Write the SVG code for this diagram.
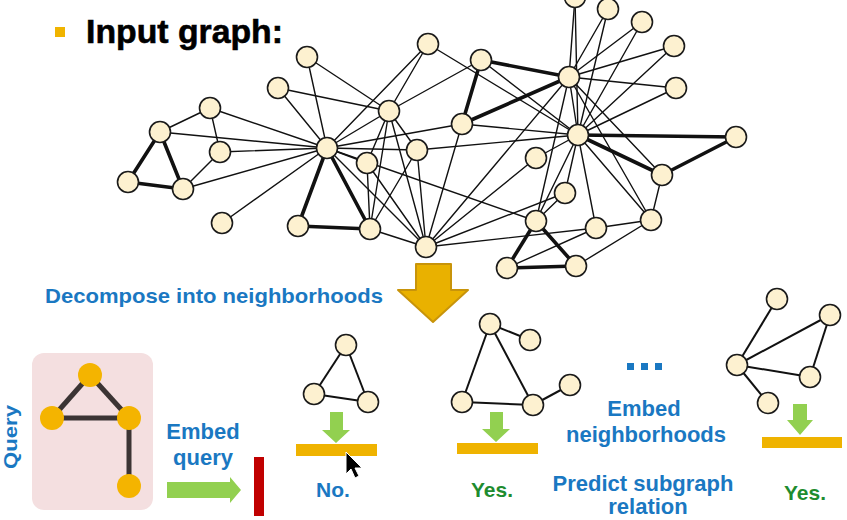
<svg xmlns="http://www.w3.org/2000/svg" width="847" height="520" viewBox="0 0 847 520">
<style>
.e{stroke:#111;stroke-width:1.4;fill:none;stroke-linecap:round}
.t{stroke:#111;stroke-width:3.6;fill:none;stroke-linecap:round}
.ne{stroke:#111;stroke-width:2;fill:none}
.qe{stroke:#3b3434;stroke-width:5;fill:none}
.n{fill:#fdf1d0;stroke:#1a1a1a;stroke-width:1.6}
.qn{fill:#f4b400}
.lbl{font-family:"Liberation Sans",Arial,sans-serif;font-weight:bold;fill:#1a78c2}
.yes{font-family:"Liberation Sans",Arial,sans-serif;font-weight:bold;fill:#1e8c2f}
.bar{fill:#efb300}
.ga{fill:#92d050}
</style>
<rect width="847" height="520" fill="#ffffff"/>
<g id="title">
<rect x="55" y="27" width="10" height="10" fill="#f0b400"/>
<text x="86" y="43" font-family="'Liberation Sans',Arial,sans-serif" font-weight="bold" font-size="34" fill="#000" stroke="#000" stroke-width="0.6" textLength="197" lengthAdjust="spacingAndGlyphs">Input graph:</text>
</g>
<g id="query-box">
<rect x="32" y="353" width="121" height="157" rx="12" fill="#f4dfe0"/>
</g>
<g id="connectors">
<line class="e" x1="327" y1="148" x2="389" y2="111"/>
<line class="e" x1="327" y1="148" x2="426" y2="247"/>
<line class="t" x1="327" y1="148" x2="370" y2="229"/>
<line class="e" x1="327" y1="148" x2="220" y2="152"/>
<line class="e" x1="327" y1="148" x2="160" y2="132"/>
<line class="e" x1="327" y1="148" x2="183" y2="189"/>
<line class="e" x1="327" y1="148" x2="367" y2="163"/>
<line class="e" x1="327" y1="148" x2="462" y2="124"/>
<line class="e" x1="327" y1="148" x2="210" y2="108"/>
<line class="e" x1="327" y1="148" x2="222" y2="223"/>
<line class="t" x1="327" y1="148" x2="298" y2="226"/>
<line class="e" x1="327" y1="148" x2="417" y2="150"/>
<line class="e" x1="327" y1="148" x2="307" y2="57"/>
<line class="e" x1="327" y1="148" x2="428" y2="44"/>
<line class="e" x1="327" y1="148" x2="278" y2="88"/>
<line class="e" x1="327" y1="148" x2="536" y2="221"/>
<line class="e" x1="389" y1="111" x2="426" y2="247"/>
<line class="e" x1="389" y1="111" x2="370" y2="229"/>
<line class="e" x1="389" y1="111" x2="367" y2="163"/>
<line class="e" x1="389" y1="111" x2="417" y2="150"/>
<line class="e" x1="389" y1="111" x2="307" y2="57"/>
<line class="e" x1="389" y1="111" x2="428" y2="44"/>
<line class="e" x1="389" y1="111" x2="278" y2="88"/>
<line class="e" x1="389" y1="111" x2="481" y2="60"/>
<line class="e" x1="426" y1="247" x2="370" y2="229"/>
<line class="e" x1="426" y1="247" x2="367" y2="163"/>
<line class="e" x1="426" y1="247" x2="462" y2="124"/>
<line class="e" x1="426" y1="247" x2="536" y2="158"/>
<line class="e" x1="426" y1="247" x2="417" y2="150"/>
<line class="e" x1="426" y1="247" x2="596" y2="228"/>
<line class="e" x1="426" y1="247" x2="565" y2="193"/>
<line class="e" x1="426" y1="247" x2="569" y2="77"/>
<line class="e" x1="370" y1="229" x2="367" y2="163"/>
<line class="t" x1="370" y1="229" x2="298" y2="226"/>
<line class="e" x1="370" y1="229" x2="417" y2="150"/>
<line class="e" x1="220" y1="152" x2="183" y2="189"/>
<line class="e" x1="220" y1="152" x2="210" y2="108"/>
<line class="t" x1="160" y1="132" x2="183" y2="189"/>
<line class="e" x1="160" y1="132" x2="210" y2="108"/>
<line class="t" x1="160" y1="132" x2="128" y2="182"/>
<line class="t" x1="183" y1="189" x2="128" y2="182"/>
<line class="t" x1="462" y1="124" x2="481" y2="60"/>
<line class="t" x1="462" y1="124" x2="569" y2="77"/>
<line class="e" x1="462" y1="124" x2="578" y2="135"/>
<line class="e" x1="536" y1="158" x2="578" y2="135"/>
<line class="e" x1="417" y1="150" x2="578" y2="135"/>
<line class="e" x1="575" y1="-3" x2="569" y2="77"/>
<line class="e" x1="575" y1="-3" x2="578" y2="135"/>
<line class="e" x1="608" y1="9" x2="569" y2="77"/>
<line class="e" x1="608" y1="9" x2="578" y2="135"/>
<line class="e" x1="642" y1="22" x2="569" y2="77"/>
<line class="e" x1="642" y1="22" x2="578" y2="135"/>
<line class="e" x1="674" y1="46" x2="569" y2="77"/>
<line class="e" x1="674" y1="46" x2="578" y2="135"/>
<line class="e" x1="676" y1="88" x2="569" y2="77"/>
<line class="e" x1="676" y1="88" x2="578" y2="135"/>
<line class="e" x1="428" y1="44" x2="578" y2="135"/>
<line class="e" x1="651" y1="220" x2="576" y2="266"/>
<line class="e" x1="651" y1="220" x2="596" y2="228"/>
<line class="e" x1="651" y1="220" x2="662" y2="175"/>
<line class="e" x1="651" y1="220" x2="569" y2="77"/>
<line class="e" x1="651" y1="220" x2="578" y2="135"/>
<line class="t" x1="507" y1="268" x2="576" y2="266"/>
<line class="e" x1="507" y1="268" x2="596" y2="228"/>
<line class="t" x1="507" y1="268" x2="536" y2="221"/>
<line class="t" x1="576" y1="266" x2="536" y2="221"/>
<line class="t" x1="736" y1="137" x2="662" y2="175"/>
<line class="t" x1="736" y1="137" x2="578" y2="135"/>
<line class="e" x1="596" y1="228" x2="578" y2="135"/>
<line class="e" x1="565" y1="193" x2="536" y2="221"/>
<line class="e" x1="565" y1="193" x2="578" y2="135"/>
<line class="e" x1="662" y1="175" x2="569" y2="77"/>
<line class="t" x1="662" y1="175" x2="578" y2="135"/>
<line class="t" x1="481" y1="60" x2="569" y2="77"/>
<line class="e" x1="481" y1="60" x2="578" y2="135"/>
<line class="e" x1="536" y1="221" x2="569" y2="77"/>
<line class="e" x1="536" y1="221" x2="578" y2="135"/>
<line class="e" x1="569" y1="77" x2="578" y2="135"/>
<line class="qe" x1="90" y1="375" x2="52" y2="418"/>
<line class="qe" x1="90" y1="375" x2="129" y2="418"/>
<line class="qe" x1="52" y1="418" x2="129" y2="418"/>
<line class="qe" x1="129" y1="418" x2="129" y2="486"/>
<line class="ne" x1="346" y1="345" x2="314" y2="394"/>
<line class="ne" x1="346" y1="345" x2="368" y2="402"/>
<line class="ne" x1="314" y1="394" x2="368" y2="402"/>
<line class="ne" x1="490" y1="324" x2="530" y2="340"/>
<line class="ne" x1="490" y1="324" x2="462" y2="402"/>
<line class="ne" x1="490" y1="324" x2="533" y2="405"/>
<line class="ne" x1="462" y1="402" x2="533" y2="405"/>
<line class="ne" x1="533" y1="405" x2="570" y2="385"/>
<line class="ne" x1="777" y1="299" x2="737" y2="365"/>
<line class="ne" x1="830" y1="315" x2="737" y2="365"/>
<line class="ne" x1="830" y1="315" x2="810" y2="377"/>
<line class="ne" x1="737" y1="365" x2="810" y2="377"/>
<line class="ne" x1="737" y1="365" x2="768" y2="403"/>
</g>
<g id="n1"><circle class="n" cx="327" cy="148" r="10.5"/></g>
<g id="n2"><circle class="n" cx="389" cy="111" r="10.5"/></g>
<g id="n3"><circle class="n" cx="426" cy="247" r="10.5"/></g>
<g id="n4"><circle class="n" cx="370" cy="229" r="10.5"/></g>
<g id="n5"><circle class="n" cx="220" cy="152" r="10.5"/></g>
<g id="n6"><circle class="n" cx="160" cy="132" r="10.5"/></g>
<g id="n7"><circle class="n" cx="183" cy="189" r="10.5"/></g>
<g id="n8"><circle class="n" cx="367" cy="163" r="10.5"/></g>
<g id="n9"><circle class="n" cx="462" cy="124" r="10.5"/></g>
<g id="n10"><circle class="n" cx="536" cy="158" r="10.5"/></g>
<g id="n11"><circle class="n" cx="210" cy="108" r="10.5"/></g>
<g id="n12"><circle class="n" cx="222" cy="223" r="10.5"/></g>
<g id="n13"><circle class="n" cx="298" cy="226" r="10.5"/></g>
<g id="n14"><circle class="n" cx="417" cy="150" r="10.5"/></g>
<g id="n15"><circle class="n" cx="575" cy="-3" r="10.5"/></g>
<g id="n16"><circle class="n" cx="608" cy="9" r="10.5"/></g>
<g id="n17"><circle class="n" cx="128" cy="182" r="10.5"/></g>
<g id="n18"><circle class="n" cx="307" cy="57" r="10.5"/></g>
<g id="n19"><circle class="n" cx="642" cy="22" r="10.5"/></g>
<g id="n20"><circle class="n" cx="428" cy="44" r="10.5"/></g>
<g id="n21"><circle class="n" cx="674" cy="46" r="10.5"/></g>
<g id="n22"><circle class="n" cx="278" cy="88" r="10.5"/></g>
<g id="n23"><circle class="n" cx="676" cy="88" r="10.5"/></g>
<g id="n24"><circle class="n" cx="651" cy="220" r="10.5"/></g>
<g id="n25"><circle class="n" cx="507" cy="268" r="10.5"/></g>
<g id="n26"><circle class="n" cx="576" cy="266" r="10.5"/></g>
<g id="n27"><circle class="n" cx="736" cy="137" r="10.5"/></g>
<g id="n28"><circle class="n" cx="596" cy="228" r="10.5"/></g>
<g id="n29"><circle class="n" cx="565" cy="193" r="10.5"/></g>
<g id="n30"><circle class="n" cx="662" cy="175" r="10.5"/></g>
<g id="n31"><circle class="n" cx="481" cy="60" r="10.5"/></g>
<g id="n32"><circle class="n" cx="536" cy="221" r="10.5"/></g>
<g id="n33"><circle class="n" cx="569" cy="77" r="10.5"/></g>
<g id="n34"><circle class="n" cx="578" cy="135" r="10.5"/></g>
<g id="decompose">
<polygon points="416,264 451,264 451,290 468,290 433,322 398,290 416,290" fill="#e9b100" stroke="#c8940a" stroke-width="2" stroke-linejoin="round"/>
<text class="lbl" x="45" y="303" font-size="20.5" textLength="338" lengthAdjust="spacingAndGlyphs">Decompose into neighborhoods</text>
</g>
<g id="query">
<circle class="qn" cx="90" cy="375" r="12"/>
<circle class="qn" cx="52" cy="418" r="12"/>
<circle class="qn" cx="129" cy="418" r="12"/>
<circle class="qn" cx="129" cy="486" r="12"/>
<text class="lbl" transform="translate(17,437) rotate(-90)" text-anchor="middle" font-size="19" textLength="64" lengthAdjust="spacingAndGlyphs">Query</text>
</g>
<g id="embed-query">
<text class="lbl" x="203" y="439" text-anchor="middle" font-size="22">Embed</text>
<text class="lbl" x="203" y="465" text-anchor="middle" font-size="22">query</text>
<polygon class="ga" points="167,482 230,482 230,477 241,490 230,503 230,498 167,498"/>
<rect x="254" y="457" width="10" height="59" fill="#c00000"/>
</g>
<g id="nb1">
<circle class="n" cx="346" cy="345" r="10.5"/>
<circle class="n" cx="314" cy="394" r="10.5"/>
<circle class="n" cx="368" cy="402" r="10.5"/>
<polygon class="ga" points="330,412 343,412 343,430 350,430 336,443 322,430 330,430"/>
<rect class="bar" x="296" y="444" width="81" height="12"/>
<text class="lbl" x="333" y="497" text-anchor="middle" font-size="21">No.</text>
</g>
<g id="nb2">
<circle class="n" cx="490" cy="324" r="10.5"/>
<circle class="n" cx="530" cy="340" r="10.5"/>
<circle class="n" cx="462" cy="402" r="10.5"/>
<circle class="n" cx="533" cy="405" r="10.5"/>
<circle class="n" cx="570" cy="385" r="10.5"/>
<polygon class="ga" points="490,412 503,412 503,429 510,429 496,442 482,429 490,429"/>
<rect class="bar" x="457" y="443" width="81" height="11"/>
<text class="yes" x="492" y="497" text-anchor="middle" font-size="21">Yes.</text>
</g>
<g id="dots" fill="#1a78c2">
<rect x="627" y="363" width="7" height="7"/>
<rect x="641" y="363" width="7" height="7"/>
<rect x="655" y="363" width="7" height="7"/>
</g>
<g id="embed-neighborhoods">
<text class="lbl" x="644" y="416" text-anchor="middle" font-size="22">Embed</text>
<text class="lbl" x="646" y="442" text-anchor="middle" font-size="22">neighborhoods</text>
<text class="lbl" x="643" y="491" text-anchor="middle" font-size="22">Predict subgraph</text>
<text class="lbl" x="648" y="514" text-anchor="middle" font-size="22">relation</text>
</g>
<g id="nb3">
<circle class="n" cx="777" cy="299" r="10.5"/>
<circle class="n" cx="830" cy="315" r="10.5"/>
<circle class="n" cx="737" cy="365" r="10.5"/>
<circle class="n" cx="810" cy="377" r="10.5"/>
<circle class="n" cx="768" cy="403" r="10.5"/>
<polygon class="ga" points="793,404 807,404 807,420 813,420 800,435 787,420 793,420"/>
<rect class="bar" x="762" y="437" width="80" height="11"/>
<text class="yes" x="805" y="500" text-anchor="middle" font-size="21">Yes.</text>
</g>
<g id="cursor">
<polygon points="346,452 346,474 351,469 355,478 359,476 355,468 362,468" fill="#000" stroke="#fff" stroke-width="1" stroke-linejoin="round"/>
</g>
</svg>
